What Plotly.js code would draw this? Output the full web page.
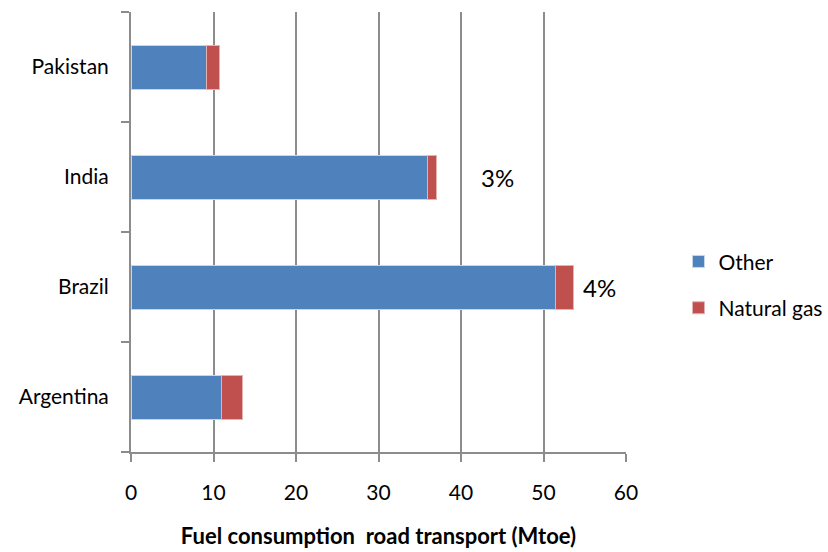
<!DOCTYPE html>
<html>
<head>
<meta charset="utf-8">
<script src="https://cdn.plot.ly/plotly-3.0.1.min.js"></script>
<style>html,body{margin:0;padding:0;background:#fff;}#chart{width:828px;height:552px;}</style>
</head>
<body>
<div id="chart"></div>
<script>
const countries = ['Argentina', 'Brazil', 'India', 'Pakistan'];
const otherValues = [11.0, 51.4, 35.9, 9.1];
const naturalGasValues = [2.5, 2.2, 1.1, 1.6];
const shareLabels = [
  {country: 'India', text: '3%', x: 44.4},
  {country: 'Brazil', text: '4%', x: 56.8}
];
const xTicks = [0, 10, 20, 30, 40, 50, 60];

const fontFam = 'Lato, "Open Sans", "Liberation Sans", sans-serif';

const traces = [
  {type: 'bar', orientation: 'h', name: 'Other', legendgroup: 'a', y: countries, x: otherValues,
   marker: {color: '#4F81BD', line: {color: '#C9D6EA', width: 1}}, width: 0.4},
  {type: 'bar', orientation: 'h', name: 'Natural gas', legendgroup: 'b', y: countries, x: naturalGasValues,
   marker: {color: '#C0504D', line: {color: '#E2B3B2', width: 1}}, width: 0.4}
];

const layout = {
  width: 828, height: 552,
  margin: {l: 131, r: 202, t: 12, b: 100, autoexpand: false},
  barmode: 'stack',
  paper_bgcolor: '#fff', plot_bgcolor: '#fff',
  font: {family: fontFam, size: 21, color: '#000'},
  showlegend: true,
  legend: {x: 1.106, y: 0.38, xanchor: 'left', yanchor: 'middle', traceorder: 'grouped',
           font: {size: 21}, tracegroupgap: 16, itemwidth: 30},
  xaxis: {range: [0, 60], tickvals: xTicks, showgrid: true, gridcolor: '#8C8C8C', gridwidth: 2,
          zeroline: false, showline: true, linecolor: '#8C8C8C', linewidth: 2,
          ticks: 'outside', ticklen: 8, tickcolor: '#8C8C8C', tickwidth: 2,
          ticklabelstandoff: 13, tickfont: {size: 21},
          title: {text: '<b>Fuel consumption  road transport (Mtoe)</b>', font: {size: 22}, standoff: 25}},
  yaxis: {type: 'category', categoryorder: 'array', categoryarray: countries,
          showgrid: false, zeroline: false, showline: true, linecolor: '#8C8C8C', linewidth: 2,
          ticks: 'outside', tickson: 'boundaries', ticklen: 8, tickcolor: '#8C8C8C', tickwidth: 2,
          ticklabelstandoff: 16, tickfont: {size: 21}},
  annotations: shareLabels.map(s => ({x: s.x, y: s.country, xref: 'x', yref: 'y', text: s.text,
     showarrow: false, font: {size: 24, color: '#000'}}))
};

Plotly.newPlot('chart', traces, layout, {displayModeBar: false, staticPlot: true});
</script>
</body>
</html>
